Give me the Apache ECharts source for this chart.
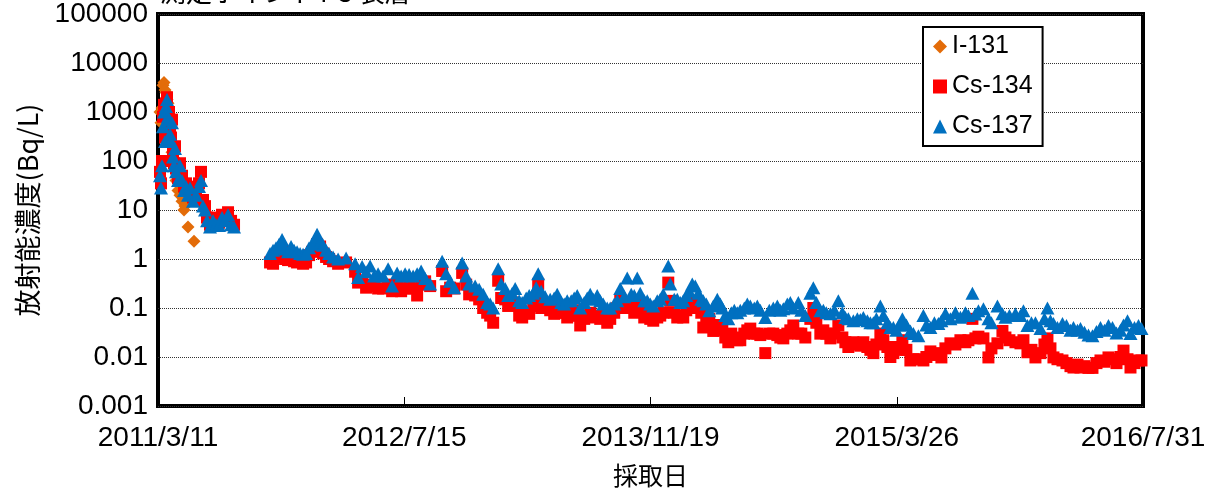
<!DOCTYPE html>
<html><head><meta charset="utf-8">
<script src="https://cdn.jsdelivr.net/npm/echarts@6/dist/echarts.min.js"></script>
<style>html,body{margin:0;padding:0;background:#fff}#c{width:1216px;height:500px}</style>
</head><body><div id="c"></div>
<script>
const chartTitle = '測定ポイントT-3 表層';
const xAxisTitle = '採取日';
const yAxisTitle = '放射能濃度(Bq/L)';
const xTickLabels = ['2011/3/11','2012/7/15','2013/11/19','2015/3/26','2016/7/31'];
const yTickLabels = ['0.001','0.01','0.1','1','10','100','1000','10000','100000'];
const seriesNames = ['I-131','Cs-134','Cs-137'];

const i131Dates = ['2011/3/15','2011/3/17','2011/3/19','2011/3/21','2011/3/23','2011/3/25','2011/3/27','2011/3/29','2011/3/31','2011/4/2','2011/4/4','2011/4/6','2011/4/8','2011/4/12','2011/4/16','2011/4/20','2011/4/24','2011/4/28','2011/5/2','2011/5/4','2011/5/10','2011/5/22'];
const i131 = [1000,600,1200,3500,4000,2800,2500,1800,1500,800,400,250,150,80,40,25,20,15,10,12,4.5,2.3];

const csDates = [
'2011/3/15','2011/3/17','2011/3/19','2011/3/21','2011/3/23','2011/3/25','2011/3/27','2011/3/29','2011/3/31','2011/4/2',
'2011/4/4','2011/4/6','2011/4/8','2011/4/10','2011/4/12','2011/4/14','2011/4/16','2011/4/20','2011/4/24','2011/4/28',
'2011/5/2','2011/5/6','2011/5/10','2011/5/14','2011/5/20','2011/5/26','2011/6/1','2011/6/5','2011/6/9','2011/6/13',
'2011/6/17','2011/6/23','2011/6/29','2011/7/5','2011/7/11','2011/7/17','2011/7/23','2011/7/29','2011/8/4','2011/8/10',
'2011/10/21','2011/10/27','2011/11/2','2011/11/8','2011/11/14','2011/11/20','2011/11/26','2011/12/2','2011/12/8','2011/12/14',
'2011/12/20','2011/12/26','2012/1/1','2012/1/7','2012/1/13','2012/1/19','2012/1/23','2012/1/29','2012/2/4','2012/2/10',
'2012/2/16','2012/2/24','2012/3/5','2012/3/21',
'2012/4/8','2012/4/14','2012/4/22','2012/4/30','2012/5/8','2012/5/16','2012/5/24','2012/6/3','2012/6/13','2012/6/21',
'2012/7/1','2012/7/9','2012/7/17','2012/7/25','2012/8/2','2012/8/10','2012/8/18','2012/8/26','2012/9/5','2012/9/29',
'2012/10/7','2012/10/15','2012/10/23','2012/11/8','2012/11/16','2012/11/22','2012/12/4','2012/12/12','2012/12/20','2012/12/28',
'2013/1/3','2013/1/9','2013/1/19','2013/1/25','2013/2/2','2013/2/8','2013/2/16','2013/2/22','2013/3/2','2013/3/8',
'2013/3/16','2013/3/22','2013/3/30','2013/4/5','2013/4/9','2013/4/15','2013/4/23','2013/5/3','2013/5/11','2013/5/17',
'2013/5/25','2013/5/31','2013/6/6','2013/6/14','2013/6/20','2013/6/26','2013/7/2','2013/7/10','2013/7/16','2013/7/22',
'2013/7/28','2013/8/5','2013/8/11','2013/8/17','2013/8/25','2013/8/31','2013/9/8','2013/9/14','2013/9/20','2013/9/28',
'2013/10/4','2013/10/12','2013/10/18','2013/10/24','2013/10/30','2013/11/7','2013/11/13','2013/11/19','2013/11/25','2013/12/3',
'2013/12/9','2013/12/15','2013/12/25','2013/12/29','2014/1/6','2014/1/12','2014/1/18','2014/1/24','2014/1/30','2014/2/5',
'2014/2/11','2014/2/17','2014/2/23','2014/3/1','2014/3/5','2014/3/11','2014/3/17','2014/3/25','2014/4/2','2014/4/8',
'2014/4/12','2014/4/18','2014/4/24','2014/4/30','2014/5/6','2014/5/12','2014/5/18','2014/5/26','2014/6/1','2014/6/7',
'2014/6/15','2014/6/21','2014/6/27','2014/7/7','2014/7/15','2014/7/23','2014/7/31','2014/8/6','2014/8/12','2014/8/20',
'2014/8/26','2014/9/1','2014/9/11','2014/9/17','2014/9/25','2014/10/5','2014/10/11','2014/10/17','2014/10/25','2014/10/31',
'2014/11/6','2014/11/14','2014/11/22','2014/11/30','2014/12/8','2014/12/14','2014/12/20','2014/12/30','2015/1/7','2015/1/13',
'2015/1/19','2015/1/27','2015/2/2','2015/2/8','2015/2/14','2015/2/22','2015/2/28','2015/3/8','2015/3/14','2015/3/20',
'2015/3/26','2015/4/1','2015/4/7','2015/4/15','2015/4/23','2015/4/29','2015/5/9','2015/5/19','2015/5/25','2015/6/2',
'2015/6/10','2015/6/18','2015/6/24','2015/7/2','2015/7/12','2015/7/22','2015/8/1','2015/8/11','2015/8/17','2015/8/25',
'2015/8/31','2015/9/6','2015/9/16','2015/9/26','2015/10/2','2015/10/14','2015/10/24','2015/10/30','2015/11/7','2015/11/19',
'2015/11/29','2015/12/5','2015/12/13','2015/12/21','2015/12/29','2016/1/8','2016/1/16','2016/1/22','2016/1/28','2016/2/3',
'2016/2/11','2016/2/21','2016/2/29','2016/3/8','2016/3/14','2016/3/22','2016/3/28','2016/4/5','2016/4/13','2016/4/21',
'2016/4/29','2016/5/7','2016/5/15','2016/5/23','2016/5/31','2016/6/8','2016/6/16','2016/6/22','2016/6/30','2016/7/6',
'2016/7/14','2016/7/22','2016/7/28'];

const cs134 = [
60,35,100,800,1400,300,1500,2000,900,1000,
400,300,700,150,90,200,70,45,90,50,
30,35,25,30,18,25,35,60,16,12,
7,5,7,6,5.5,8,7,9,6,5,
0.85,0.8,1.1,1.3,1.5,1.0,0.95,1.0,0.9,0.85,
0.9,0.8,0.85,1.2,1.4,1.6,2.0,1.8,1.3,1.1,
1.0,0.9,0.8,0.85,
0.55,0.33,0.35,0.26,0.3,0.28,0.25,0.25,0.3,0.22,
0.3,0.22,0.25,0.28,0.25,0.18,0.3,0.35,0.28,0.57,
0.22,0.26,0.25,0.52,0.3,0.19,0.18,0.15,0.1,0.08,
0.07,0.05,0.36,0.16,0.15,0.11,0.13,0.12,0.07,0.064,
0.08,0.076,0.11,0.14,0.31,0.1,0.12,0.09,0.076,0.1,
0.08,0.08,0.064,0.07,0.09,0.07,0.044,0.06,0.07,0.08,
0.064,0.07,0.06,0.07,0.05,0.06,0.08,0.1,0.14,0.1,
0.12,0.1,0.08,0.1,0.12,0.064,0.07,0.06,0.055,0.064,
0.07,0.08,0.33,0.14,0.08,0.064,0.07,0.064,0.09,0.1,
0.14,0.12,0.1,0.08,0.04,0.05,0.06,0.034,0.045,0.04,
0.035,0.025,0.02,0.03,0.025,0.022,0.022,0.03,0.035,0.038,
0.03,0.03,0.028,0.012,0.03,0.03,0.028,0.025,0.024,0.03,
0.035,0.044,0.03,0.03,0.025,0.06,0.1,0.05,0.03,0.035,
0.03,0.024,0.03,0.044,0.025,0.02,0.016,0.02,0.018,0.017,
0.02,0.016,0.014,0.012,0.018,0.03,0.022,0.016,0.01,0.012,
0.016,0.014,0.022,0.014,0.0085,0.009,0.009,0.0085,0.01,0.013,
0.011,0.012,0.0098,0.015,0.019,0.018,0.022,0.02,0.022,0.06,
0.024,0.026,0.024,0.0098,0.015,0.019,0.034,0.025,0.022,0.02,
0.019,0.022,0.0125,0.014,0.0098,0.012,0.018,0.024,0.015,0.0098,
0.009,0.0085,0.0075,0.0065,0.0061,0.007,0.0061,0.0065,0.006,0.006,
0.0075,0.0085,0.008,0.0098,0.009,0.0075,0.01,0.0135,0.009,0.0061,
0.0075,0.0085,0.0085];

const cs137 = [
50,28,80,500,1000,250,1300,1800,800,700,
350,250,600,120,80,180,60,40,80,40,
25,30,20,28,15,20,30,40,12,10,
6,4.5,6,5,4.8,7,6,8,5,4.5,
1.3,1.5,1.7,2.0,2.5,1.6,1.4,1.8,1.5,1.4,
1.3,1.25,1.3,1.7,2.0,2.5,3.2,2.2,1.9,1.5,
1.3,1.1,1.0,1.05,
0.8,0.42,0.7,0.55,0.72,0.45,0.5,0.45,0.63,0.28,
0.52,0.45,0.5,0.48,0.45,0.5,0.57,0.4,0.31,0.9,
0.5,0.35,0.26,0.83,0.45,0.31,0.28,0.24,0.19,0.13,
0.12,0.1,0.63,0.31,0.25,0.18,0.2,0.25,0.14,0.13,
0.16,0.18,0.2,0.26,0.5,0.22,0.17,0.15,0.16,0.19,
0.13,0.12,0.14,0.14,0.16,0.18,0.1,0.13,0.16,0.19,
0.15,0.18,0.14,0.12,0.1,0.1,0.12,0.14,0.25,0.17,
0.41,0.19,0.18,0.41,0.2,0.14,0.14,0.12,0.11,0.14,
0.15,0.19,0.72,0.31,0.15,0.15,0.13,0.14,0.18,0.22,
0.31,0.28,0.2,0.15,0.14,0.12,0.088,0.11,0.15,0.12,
0.1,0.07,0.06,0.08,0.09,0.08,0.09,0.1,0.12,0.11,
0.1,0.11,0.09,0.064,0.09,0.1,0.11,0.09,0.097,0.12,
0.13,0.1,0.13,0.09,0.07,0.2,0.26,0.13,0.088,0.09,
0.08,0.076,0.09,0.14,0.08,0.064,0.06,0.055,0.06,0.058,
0.064,0.055,0.05,0.05,0.06,0.11,0.07,0.05,0.04,0.04,
0.035,0.045,0.06,0.045,0.034,0.03,0.027,0.07,0.045,0.04,
0.05,0.048,0.055,0.076,0.06,0.08,0.065,0.08,0.07,0.2,
0.075,0.088,0.097,0.06,0.05,0.11,0.076,0.065,0.07,0.076,
0.07,0.088,0.044,0.05,0.05,0.038,0.06,0.1,0.055,0.048,
0.04,0.048,0.044,0.035,0.04,0.035,0.038,0.032,0.028,0.027,
0.033,0.04,0.035,0.044,0.04,0.031,0.035,0.045,0.055,0.03,
0.04,0.044,0.038];

function toTime(s){const p=s.split('/').map(Number);return Date.UTC(p[0],p[1]-1,p[2]);}
const xMin = toTime(xTickLabels[0]);
const xMax = toTime(xTickLabels[xTickLabels.length-1]);
const xInterval = (xMax - xMin)/(xTickLabels.length-1);

const latin = "'Liberation Sans','Noto Sans CJK JP',sans-serif";
const cjk = "'Noto Sans CJK JP',sans-serif";

const chart = echarts.init(document.getElementById('c'), null, {renderer:'canvas'});
chart.setOption({
  animation:false,
  backgroundColor:'#fff',
  grid:{left:158,top:12,right:73,bottom:94,show:true,borderColor:'#000',borderWidth:4,backgroundColor:'transparent'},
  graphic:[{type:'text',left:160,top:-21,style:{text:chartTitle,font:"26px 'Noto Sans CJK JP',sans-serif",fill:'#000'}}],
  legend:{
    orient:'vertical',left:923,top:27,
    backgroundColor:'#fff',borderColor:'#000',borderWidth:2,borderRadius:0,
    padding:[7,10,7,10],itemGap:15,itemWidth:14,itemHeight:14,
    textStyle:{fontFamily:latin,fontSize:25,color:'#000'},
    data:[{name:seriesNames[0],icon:'diamond'},{name:seriesNames[1],icon:'rect'},{name:seriesNames[2],icon:'triangle'}]
  },
  xAxis:{
    type:'value',min:xMin,max:xMax,interval:xInterval,
    name:xAxisTitle,nameLocation:'middle',nameGap:57,
    nameTextStyle:{fontFamily:cjk,fontSize:25,color:'#000'},
    axisLine:{show:false},
    axisTick:{show:true,inside:true,length:9,lineStyle:{color:'#000',width:1}},
    splitLine:{show:false},
    axisLabel:{margin:18,fontFamily:latin,fontSize:28,color:'#000',showMinLabel:true,showMaxLabel:true,
      formatter:v=>xTickLabels[Math.round((v-xMin)/xInterval)]}
  },
  yAxis:{
    type:'log',logBase:10,min:0.001,max:100000,
    name:yAxisTitle,nameLocation:'middle',nameGap:117,nameRotate:90,
    nameTextStyle:{fontFamily:cjk,fontSize:27,color:'#000'},
    axisLine:{show:false},axisTick:{show:false},
    splitLine:{show:true,lineStyle:{color:'#333',type:'dotted',width:1}},
    axisLabel:{margin:10,fontFamily:latin,fontSize:28,color:'#000',
      formatter:v=>yTickLabels[Math.round(Math.log10(v))+3]}
  },
  series:[
    {name:seriesNames[0],type:'scatter',symbol:'diamond',symbolSize:13,itemStyle:{color:'#E36C09',opacity:1},
     data:i131Dates.map((d,i)=>[toTime(d),i131[i]])},
    {name:seriesNames[1],type:'scatter',symbol:'rect',symbolSize:12,itemStyle:{color:'#FF0000',opacity:1},
     data:csDates.map((d,i)=>[toTime(d),cs134[i]])},
    {name:seriesNames[2],type:'scatter',symbol:'triangle',symbolSize:[14,13],itemStyle:{color:'#0070C0',opacity:1},
     data:csDates.map((d,i)=>[toTime(d),cs137[i]])}
  ]
});
</script></body></html>
